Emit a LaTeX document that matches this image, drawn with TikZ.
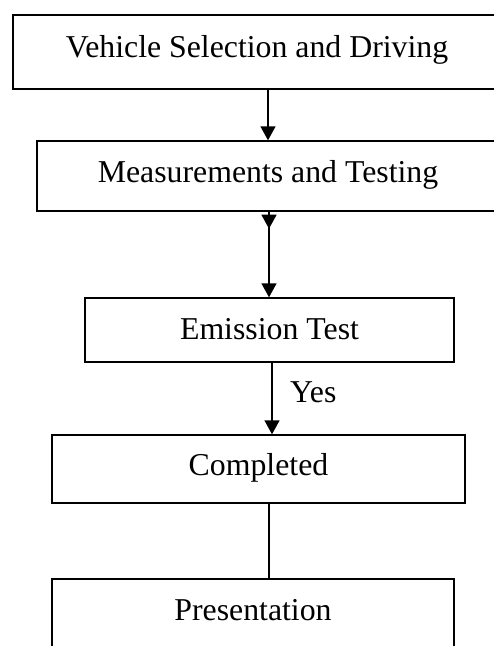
\documentclass[tikz,border=0pt]{standalone}
\usepackage{fontspec}
\setmainfont{Liberation Serif}
\usetikzlibrary{arrows.meta}
\begin{document}
\begin{tikzpicture}[x=1pt,y=-1pt,
  box/.style={draw=black, line width=1.4pt, inner sep=0pt, text height=22pt,
    font=\fontsize{31.8}{38}\selectfont},
  lbl/.style={inner sep=0pt, font=\fontsize{31.8}{38}\selectfont},
  arr/.style={line width=1.4pt, -{Triangle[length=14pt,width=15pt]}},
  conn/.style={line width=1.4pt}]
\useasboundingbox (0,0) rectangle (494,646);
\node[box, minimum width=488pt, minimum height=74pt, text depth=12pt] (b1) at (257,52) {Vehicle Selection and Driving};
\node[box, minimum width=462pt, minimum height=70pt, text depth=10pt] (b2) at (268,176) {Measurements and Testing};
\node[box, minimum width=369pt, minimum height=64pt, text depth=4pt] (b3) at (269.5,330) {Emission Test};
\node[box, minimum width=413pt, minimum height=68pt, text depth=10pt] (b4) at (258.5,469) {Completed};
\node[box, minimum width=402pt, minimum height=72pt, text depth=12pt] (b5) at (253,615) {Presentation};
\coordinate (x1) at (268,0);
\coordinate (x2) at (269,0);
\coordinate (x3) at (272,0);
\coordinate (x4) at (269,0);
\draw[arr] (b1.south -| x1) -- (b2.north -| x1);
\draw[arr] (b2.south -| x2) -- ++(0,17);
\draw[arr] (b2.south -| x2) -- (b3.north -| x2);
\draw[arr] (b3.south -| x3) -- (b4.north -| x3);
\path (b3.south -| x3) ++(18,40) node[lbl, anchor=base west] (yes) {Yes};
\draw[conn] (b4.south -| x4) -- (b5.north -| x4);
\end{tikzpicture}
\end{document}
